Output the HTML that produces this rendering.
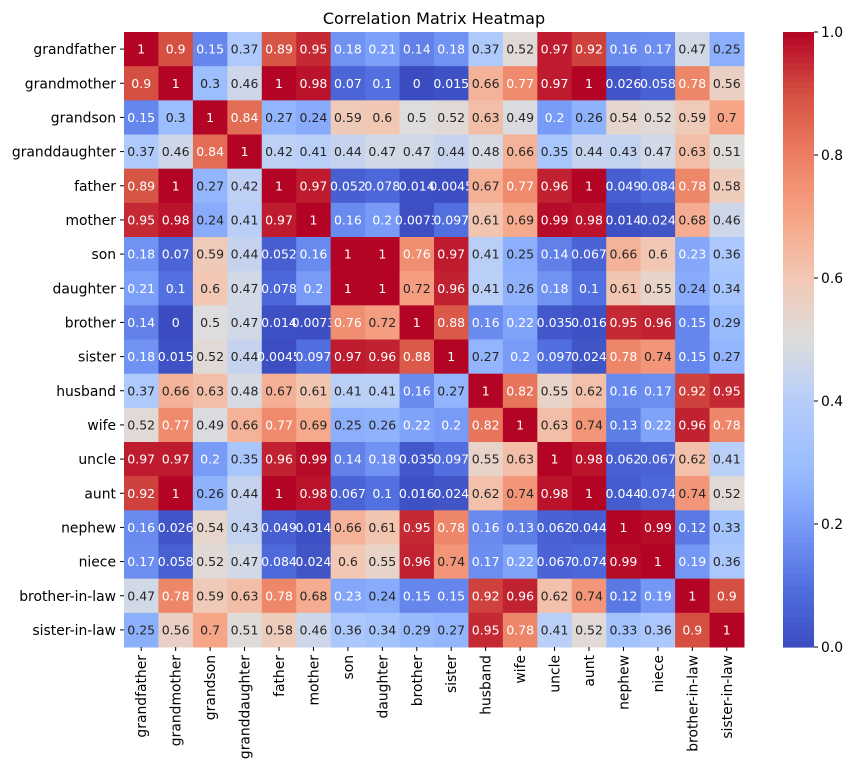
<!DOCTYPE html>
<html><head><meta charset="utf-8"><style>
body{margin:0;background:#fff;font-family:"DejaVu Sans","Liberation Sans",sans-serif;}
</style></head><body>
<svg id="chart" width="855" height="772" xmlns="http://www.w3.org/2000/svg" font-family="DejaVu Sans, Liberation Sans, sans-serif">
<text x="434" y="24" text-anchor="middle" font-size="16">Correlation Matrix Heatmap</text>
<g id="cells"></g><g id="ylab"></g><g id="xlab"></g><g id="cbar"></g>
</svg>
<script>
const labels=["grandfather","grandmother","grandson","granddaughter","father","mother","son","daughter","brother","sister","husband","wife","uncle","aunt","nephew","niece","brother-in-law","sister-in-law"];
const values=[
[1,0.9,0.15,0.37,0.89,0.95,0.18,0.21,0.14,0.18,0.37,0.52,0.97,0.92,0.16,0.17,0.47,0.25],
[0.9,1,0.3,0.46,1,0.98,0.07,0.1,0,0.015,0.66,0.77,0.97,1,0.026,0.058,0.78,0.56],
[0.15,0.3,1,0.84,0.27,0.24,0.59,0.6,0.5,0.52,0.63,0.49,0.2,0.26,0.54,0.52,0.59,0.7],
[0.37,0.46,0.84,1,0.42,0.41,0.44,0.47,0.47,0.44,0.48,0.66,0.35,0.44,0.43,0.47,0.63,0.51],
[0.89,1,0.27,0.42,1,0.97,0.052,0.078,0.014,0.0045,0.67,0.77,0.96,1,0.049,0.084,0.78,0.58],
[0.95,0.98,0.24,0.41,0.97,1,0.16,0.2,0.0073,0.097,0.61,0.69,0.99,0.98,0.014,0.024,0.68,0.46],
[0.18,0.07,0.59,0.44,0.052,0.16,1,1,0.76,0.97,0.41,0.25,0.14,0.067,0.66,0.6,0.23,0.36],
[0.21,0.1,0.6,0.47,0.078,0.2,1,1,0.72,0.96,0.41,0.26,0.18,0.1,0.61,0.55,0.24,0.34],
[0.14,0,0.5,0.47,0.014,0.0073,0.76,0.72,1,0.88,0.16,0.22,0.035,0.016,0.95,0.96,0.15,0.29],
[0.18,0.015,0.52,0.44,0.0045,0.097,0.97,0.96,0.88,1,0.27,0.2,0.097,0.024,0.78,0.74,0.15,0.27],
[0.37,0.66,0.63,0.48,0.67,0.61,0.41,0.41,0.16,0.27,1,0.82,0.55,0.62,0.16,0.17,0.92,0.95],
[0.52,0.77,0.49,0.66,0.77,0.69,0.25,0.26,0.22,0.2,0.82,1,0.63,0.74,0.13,0.22,0.96,0.78],
[0.97,0.97,0.2,0.35,0.96,0.99,0.14,0.18,0.035,0.097,0.55,0.63,1,0.98,0.062,0.067,0.62,0.41],
[0.92,1,0.26,0.44,1,0.98,0.067,0.1,0.016,0.024,0.62,0.74,0.98,1,0.044,0.074,0.74,0.52],
[0.16,0.026,0.54,0.43,0.049,0.014,0.66,0.61,0.95,0.78,0.16,0.13,0.062,0.044,1,0.99,0.12,0.33],
[0.17,0.058,0.52,0.47,0.084,0.024,0.6,0.55,0.96,0.74,0.17,0.22,0.067,0.074,0.99,1,0.19,0.36],
[0.47,0.78,0.59,0.63,0.78,0.68,0.23,0.24,0.15,0.15,0.92,0.96,0.62,0.74,0.12,0.19,1,0.9],
[0.25,0.56,0.7,0.51,0.58,0.46,0.36,0.34,0.29,0.27,0.95,0.78,0.41,0.52,0.33,0.36,0.9,1]];
const cbTicks=[0,0.2,0.4,0.6,0.8,1.0];
const vmin=0,vmax=1;
const X0=124,Y0=32,W=620,H=615,CBX=783,CBW=31;
const stopPos=[0,0.1,0.2,0.25,0.3,0.4,0.5,0.6,0.7,0.8,0.9,1];
const stopCol=[[59,76,192],[82,112,223],[120,155,248],[140,175,252],[155,190,254],[182,205,250],[221,221,221],[242,200,180],[246,165,135],[236,126,98],[213,80,66],[180,4,38]];
function cmap(v){const t=Math.max(0,Math.min(1,(v-vmin)/(vmax-vmin)));let i=0;while(i<stopPos.length-2&&t>stopPos[i+1])i++;
 const f=(t-stopPos[i])/(stopPos[i+1]-stopPos[i]);const a=stopCol[i],b=stopCol[i+1];return [0,1,2].map(k=>Math.round(a[k]+(b[k]-a[k])*f));}
function lum(c){const l=c.map(x=>{x/=255;return x<=0.03928?x/12.92:Math.pow((x+0.055)/1.055,2.4)});return 0.2126*l[0]+0.7152*l[1]+0.0722*l[2];}
const n=labels.length,cw=W/n,ch=H/n;
const xs=j=>X0+j*cw, ys=i=>Y0+i*ch, cy=v=>Y0+H-(v-vmin)/(vmax-vmin)*H;
const NS="http://www.w3.org/2000/svg";
function mk(t,attrs,parent,txt){const e=document.createElementNS(NS,t);for(const k in attrs)e.setAttribute(k,attrs[k]);if(txt!==undefined)e.textContent=txt;parent.appendChild(e);return e;}
const cells=document.getElementById('cells');
for(let i=0;i<n;i++)for(let j=0;j<n;j++){const v=values[i][j],c=cmap(v);
 const r=mk('rect',{x:xs(j),y:ys(i),width:cw+0.5,height:ch+0.5,fill:`rgb(${c})`},cells);
 
 
 const t=mk('text',{x:xs(j)+cw/2,y:ys(i)+ch/2+4.5,'text-anchor':'middle','font-size':'12.5',fill:lum(c)>0.408?'#262626':'#fff'},cells,String(Number(v.toPrecision(2))));
 
 }
const yl=document.getElementById('ylab'),xl=document.getElementById('xlab');
labels.forEach((l,i)=>{const y=ys(i)+ch/2;
 mk('line',{x1:X0-4,x2:X0,y1:y,y2:y,stroke:'#000'},yl);
 const t=mk('text',{x:X0-8,y:y+5,'text-anchor':'end','font-size':'13.9'},yl,l);
 
 
 const x=xs(i)+cw/2;
 mk('line',{x1:x,x2:x,y1:Y0+H,y2:Y0+H+4,stroke:'#000'},xl);
 const u=mk('text',{transform:`translate(${x+5},${Y0+H+8}) rotate(-90)`,'text-anchor':'end','font-size':'13.9'},xl,l);
 
 });
const cb=document.getElementById('cbar');
for(let k=0;k<100;k++){const v0=vmin+k/100*(vmax-vmin),v1=vmin+(k+1)/100*(vmax-vmin),c=cmap((v0+v1)/2);
 const r=mk('rect',{x:CBX,y:cy(v1),width:CBW,height:cy(v0)-cy(v1)+0.6,fill:`rgb(${c})`},cb);
 
 }
cbTicks.forEach(v=>{const y=cy(v);mk('line',{x1:CBX+CBW,x2:CBX+CBW+4,y1:y,y2:y,stroke:'#000'},cb);
 const t=mk('text',{x:CBX+CBW+7,y:y+5,'font-size':'13.9'},cb,v.toFixed(1));
 
 });
</script>
</body></html>
